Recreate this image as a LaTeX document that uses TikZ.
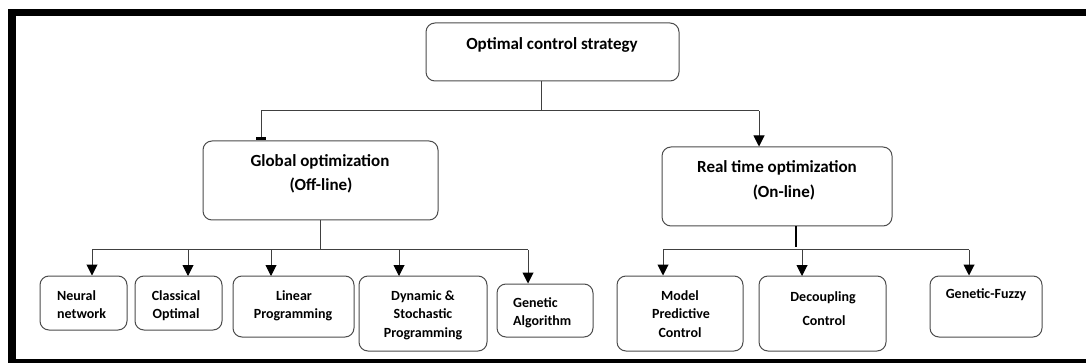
\documentclass[tikz,border=0pt]{standalone}
\usepackage{fontspec}
\setmainfont{Carlito}
\usetikzlibrary{arrows.meta,calc}
\begin{document}
\begin{tikzpicture}[x=1pt,y=-1pt,
 box/.style={draw=black!70, line width=1pt, rounded corners=9pt, inner sep=0pt},
 big/.style={font=\fontsize{17}{20}\selectfont\bfseries, anchor=base, inner sep=0pt},
 small/.style={font=\fontsize{14}{17}\selectfont\bfseries, anchor=base, inner sep=0pt},
 smallw/.style={small, anchor=base west},
 conn/.style={draw=black!75, line width=1pt},
 arr/.style={conn, -{Triangle[length=11pt,width=11pt,color=black]}},
 barend/.style={conn, -{Rectangle[length=3pt,width=10pt,color=black]}},
]
\useasboundingbox[fill=white] (0,0) rectangle (1086,363);
% frame
\fill[black] (8,9) rectangle (1086,16);
\fill[black] (8,9) rectangle (16,363);
\fill[black] (8,359) rectangle (1086,363);

% boxes
\node[box, minimum width=253pt, minimum height=58pt] (top) at (552.5,52) {};
\node[box, minimum width=235pt, minimum height=79pt] (glob) at (320.5,180.5) {};
\node[box, minimum width=230pt, minimum height=79pt] (real) at (777,186.5) {};
\node[box, minimum width=87pt, minimum height=54pt] (nn) at (83.5,303) {};
\node[box, minimum width=87pt, minimum height=54pt] (co) at (178.5,303) {};
\node[box, minimum width=121pt, minimum height=61pt] (lp) at (293.5,306.5) {};
\node[box, minimum width=128pt, minimum height=75pt] (dsp) at (423,313.5) {};
\node[box, minimum width=96pt, minimum height=53pt] (ga) at (545,310.5) {};
\node[box, minimum width=126pt, minimum height=75pt] (mpc) at (680,313.5) {};
\node[box, minimum width=127pt, minimum height=75pt] (dc) at (822.5,313.5) {};
\node[box, minimum width=112pt, minimum height=61pt] (gf) at (986,306.5) {};

% texts
\node[big] (t-top) at (552,50) {Optimal control strategy};
\node[big] (t-glob1) at (320,167) {Global optimization};
\node[big] (t-glob2) at (321,191) {(Off-line)};
\node[big] (t-real1) at (777,173) {Real time optimization};
\node[big] (t-real2) at (784,198) {(On-line)};
\node[smallw] (t-nn1) at (57,300) {Neural};
\node[smallw] (t-nn2) at (57,318) {network};
\node[small] (t-co1) at (176,300) {Classical};
\node[small] (t-co2) at (176,318) {Optimal};
\node[small] (t-lp1) at (294,300) {Linear};
\node[small] (t-lp2) at (293,318) {Programming};
\node[small] (t-dsp1) at (423,300) {Dynamic \&};
\node[small] (t-dsp2) at (423,318) {Stochastic};
\node[small] (t-dsp3) at (423,337) {Programming};
\node[smallw] (t-ga1) at (513,307) {Genetic};
\node[smallw] (t-ga2) at (513,325) {Algorithm};
\node[small] (t-mpc1) at (680,300) {Model};
\node[small] (t-mpc2) at (681,318) {Predictive};
\node[small] (t-mpc3) at (680,337) {Control};
\node[small] (t-dc1) at (823,301) {Decoupling};
\node[small] (t-dc2) at (824,325) {Control};
\node[small] (t-gf) at (986,298) {Genetic-Fuzzy};

% junction coordinates
\coordinate (j0) at (541,111);
\coordinate (jl) at (261,111);
\coordinate (jr) at (759,111);
\coordinate (g0) at (320,250);
\coordinate (gl) at (92,250);
\coordinate (gr) at (528,250);
\coordinate (r0) at (796,250);
\coordinate (rl) at (663,250);
\coordinate (rr) at (969,250);

% top level
\draw[conn] (top.south -| j0) -- (j0);
\draw[conn] (jl) -- (jr);
\draw[barend] (jl) -- (jl |- glob.north);
\draw[arr] (jr) -- (jr |- real.north);

% global branch
\draw[conn] (glob.south -| g0) -- (g0);
\draw[conn] (gl) -- (gr);
\draw[arr] (gl) -- (gl |- nn.north);
\draw[arr] (188,250) -- (188,276);
\draw[arr] (271,250) -- (271,276);
\draw[arr] (399,250) -- (399,276);
\draw[arr] (gr) -- (gr |- ga.north);

% real-time branch
\draw[conn, line width=2pt, draw=black] (real.south -| r0) -- ($(r0)+(0,-3)$);
\draw[conn] (rl) -- (rr);
\draw[arr] (rl) -- (rl |- mpc.north);
\draw[arr] (802,250) -- (802,276);
\draw[arr] (rr) -- (rr |- gf.north);
\end{tikzpicture}
\end{document}
